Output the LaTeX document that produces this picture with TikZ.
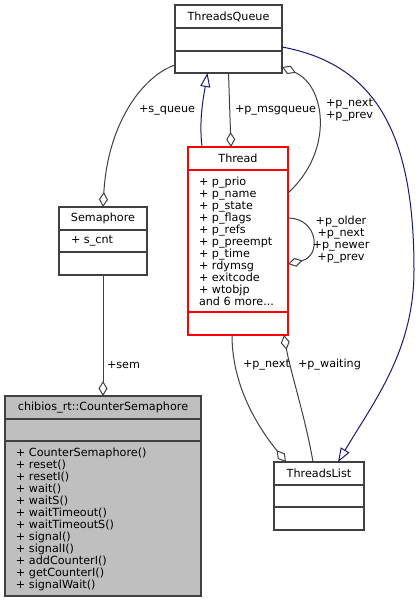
\documentclass[tikz,border=0pt]{standalone}
\usepackage{fontspec}
\setmainfont{DejaVu Sans}
\usepackage{tikz}
\usetikzlibrary{positioning,arrows.meta}
\definecolor{edgegray}{HTML}{404040}
\definecolor{inhblue}{HTML}{191970}
\begin{document}
\begin{tikzpicture}[x=1pt,y=-1pt,
  every node/.style={font=\fontsize{11.2}{12}\selectfont,inner sep=0pt,outer sep=0pt},
  cls/.style={draw=edgegray,line width=1.2pt,fill=white},
  sep/.style={draw=edgegray,line width=1.1pt},
  agg/.style={draw=edgegray,line width=1pt,-{Diamond[open,length=15pt,width=9pt]}},
  inh/.style={draw=inhblue,line width=1pt,-{Triangle[open,length=14pt,width=10pt]}}]
\useasboundingbox (0,0) rectangle (419,603);
% classes
\node[cls,minimum width=107pt,minimum height=68pt] (tq) at (228.5,39) {};
\node (tqname) at (228.5,16.5) {ThreadsQueue};
\draw[sep] ([yshift=-23pt]tq.north west) -- ([yshift=-23pt]tq.north east);
\draw[sep] ([yshift=-46pt]tq.north west) -- ([yshift=-46pt]tq.north east);
\node[cls,draw=red,minimum width=100pt,minimum height=188pt] (thread) at (238,241) {};
\node (threadname) at (238,158.5) {Thread};
\draw[sep,draw=red] ([yshift=-23pt]thread.north west) -- ([yshift=-23pt]thread.north east);
\draw[sep,draw=red] ([yshift=-165pt]thread.north west) -- ([yshift=-165pt]thread.north east);
\node[anchor=west,align=left] (threadattr) at (199,241)
  {+ p\_prio\\+ p\_name\\+ p\_state\\+ p\_flags\\+ p\_refs\\+ p\_preempt\\+ p\_time\\+ rdymsg\\+ exitcode\\+ wtobjp\\and 6 more...};
\node[cls,minimum width=88pt,minimum height=68pt] (sem) at (103,241) {};
\node (semname) at (103,218.5) {Semaphore};
\draw[sep] ([yshift=-23pt]sem.north west) -- ([yshift=-23pt]sem.north east);
\draw[sep] ([yshift=-45pt]sem.north west) -- ([yshift=-45pt]sem.north east);
\node[anchor=west] (semattr) at (71,241) {+ s\_cnt};
\node[cls,fill=gray!50,minimum width=196pt,minimum height=200pt] (cs) at (103,496) {};
\node (csname) at (103,407.5) {chibios\_rt::CounterSemaphore};
\draw[sep] ([yshift=-23pt]cs.north west) -- ([yshift=-23pt]cs.north east);
\draw[sep] ([yshift=-45pt]cs.north west) -- ([yshift=-45pt]cs.north east);
\node[anchor=west,align=left] (csops) at (16,519)
  {+ CounterSemaphore()\\+ reset()\\+ resetI()\\+ wait()\\+ waitS()\\+ waitTimeout()\\+ waitTimeoutS()\\+ signal()\\+ signalI()\\+ addCounterI()\\+ getCounterI()\\+ signalWait()};
\node[cls,minimum width=90pt,minimum height=68pt] (tl) at (319,496) {};
\node (tlname) at (319,473.5) {ThreadsList};
\draw[sep] ([yshift=-23pt]tl.north west) -- ([yshift=-23pt]tl.north east);
\draw[sep] ([yshift=-45pt]tl.north west) -- ([yshift=-45pt]tl.north east);
% relations
\draw[agg] ([yshift=8pt]tq.south west) .. controls (145,75) and (108,120) .. (sem.north);
\draw[inh] ([xshift=14pt]thread.north west) .. controls (199,120) and (203,100) .. ([xshift=-21pt]tq.south);
\draw[agg] (tq.south) -- ([xshift=-7pt]thread.north);
\draw[agg] ([yshift=-46pt]thread.north east) .. controls (335,150) and (325,85) .. ([yshift=6pt]tq.south east);
\draw[agg] ([yshift=-71pt]thread.north east) .. controls (318,218) and (322,256) .. ([yshift=-117pt]thread.north east);
\draw[agg] (sem.south) -- (cs.north);
\draw[agg] ([xshift=-6pt]thread.south) .. controls (232,390) and (262,432) .. ([xshift=12pt]tl.north west);
\draw[agg] ([xshift=-6pt]tl.north) .. controls (306,420) and (290,370) .. ([xshift=-4pt]thread.south east);
\draw[inh] ([yshift=-8pt]tq.east) .. controls (380,65) and (414,140) .. (414,270) .. controls (414,350) and (375,400) .. ([xshift=19pt]tl.north);
% labels
\node[anchor=east] (lsqueue) at (195,110) {+s\_queue};
\node[anchor=west] (lmsgqueue) at (235,110) {+p\_msgqueue};
\node[anchor=west,align=left] (lnextprev) at (326,110) {+p\_next\\+p\_prev};
\node[align=center] (lloop) at (341,240) {+p\_older\\+p\_next\\+p\_newer\\+p\_prev};
\node[anchor=west] (lsem) at (107,365) {+sem};
\node[anchor=west] (lnext) at (243,365) {+p\_next};
\node[anchor=west] (lwaiting) at (298,365) {+p\_waiting};
\end{tikzpicture}
\end{document}
